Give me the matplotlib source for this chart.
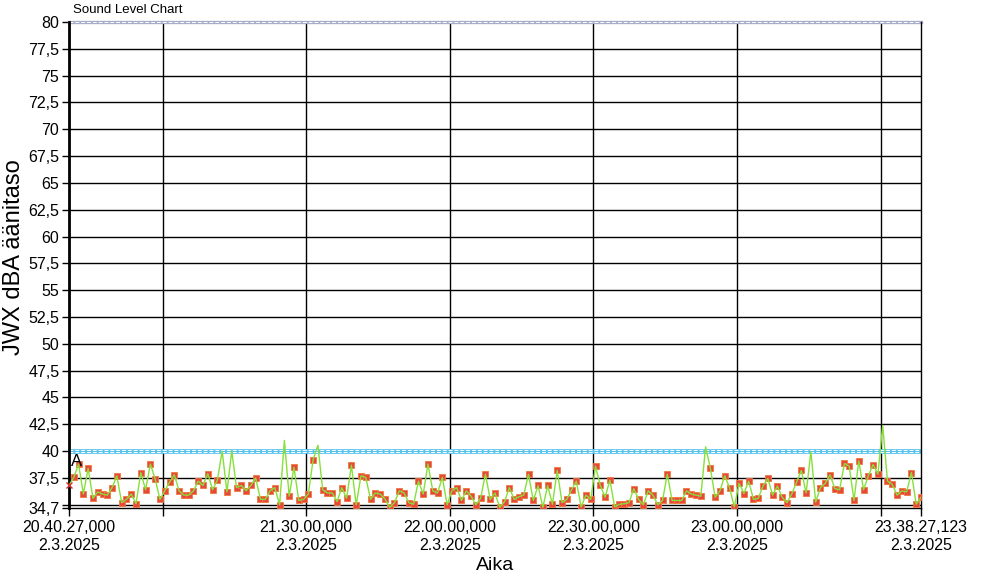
import numpy as np
import pandas as pd
import matplotlib
matplotlib.use('Agg')
import matplotlib.pyplot as plt

plt.rcParams['font.family'] = ['Liberation Sans', 'DejaVu Sans']

startTime = pd.Timestamp('2025-03-02 20:40:27')
endTime = pd.Timestamp('2025-03-02 23:38:27.123')

# one reading per minute, dBA
levels = [
    36.8, 37.55, 38.8, 36.0, 38.4, 35.6, 36.2, 36.0, 35.9, 36.6,
    37.7, 35.2, 35.5, 36.0, 35.1, 38.0, 36.4, 38.8, 37.4, 35.5,
    36.3, 37.1, 37.8, 36.3, 35.9, 35.9, 36.3, 37.2, 36.8, 37.9,
    36.4, 37.3, 40.0, 36.2, 40.0, 36.6, 36.8, 36.3, 36.8, 37.5,
    35.5, 35.5, 36.3, 36.6, 35.0, 41.0, 35.8, 38.5, 35.4, 35.5,
    36.0, 39.2, 40.55, 36.4, 36.1, 36.1, 35.3, 36.6, 35.6, 38.7,
    35.0, 37.7, 37.55, 35.5, 36.1, 36.0, 35.55, 34.75, 35.2, 36.3,
    36.1, 35.2, 35.05, 37.2, 36.0, 38.8, 36.3, 36.1, 37.55, 35.0,
    36.3, 36.6, 35.4, 36.3, 35.8, 35.0, 35.6, 37.85, 35.5, 36.1,
    34.75, 35.3, 36.6, 35.5, 35.75, 35.9, 37.85, 35.4, 36.8, 34.75,
    36.8, 35.05, 38.2, 35.2, 35.5, 36.4, 37.2, 34.8, 35.9, 35.5,
    38.6, 36.8, 35.7, 37.3, 34.8, 35.05, 35.1, 35.2, 36.5, 35.5,
    35.0, 36.3, 35.9, 35.0, 35.4, 37.85, 35.4, 35.4, 35.4, 36.3,
    36.0, 35.9, 35.8, 40.4, 38.4, 35.7, 36.3, 37.7, 36.6, 34.8,
    37.0, 36.05, 37.2, 35.5, 35.6, 36.75, 37.45, 35.9, 36.75, 35.7,
    35.2, 36.0, 37.1, 38.2, 36.1, 39.95, 35.25, 36.6, 37.0, 37.8,
    36.5, 36.4, 38.85, 38.6, 35.4, 39.1, 36.4, 37.7, 38.75, 37.85,
    42.4, 37.2, 36.9, 35.9, 36.3, 36.2, 38.0, 35.05, 35.7,
]

yTicks = [80, 77.5, 75, 72.5, 70, 67.5, 65, 62.5, 60, 57.5, 55, 52.5, 50,
          47.5, 45, 42.5, 40, 37.5, 35, 34.7]
yTickLabels = ['80', '77,5', '75', '72,5', '70', '67,5', '65', '62,5', '60',
               '57,5', '55', '52,5', '50', '47,5', '45', '42,5', '40', '37,5',
               '', '34,7']
gridTimes = ['21:00', '21:30', '22:00', '22:30', '23:00', '23:30']
xTickLabels = ['20.40.27,000\n2.3.2025', '', '21.30.00,000\n2.3.2025',
               '22.00.00,000\n2.3.2025', '22.30.00,000\n2.3.2025',
               '23.00.00,000\n2.3.2025', '', '23.38.27,123\n2.3.2025']
lowLimit = 40
highLimit = 80

times = pd.date_range(startTime, periods=len(levels), freq='min')
times = times[:-1].append(pd.DatetimeIndex([endTime]))
levels = np.array(levels)
gridStamps = [pd.Timestamp('2025-03-02 ' + t) for t in gridTimes]

fig = plt.figure(figsize=(9.9, 5.88), dpi=100)
ax = fig.add_axes([69/990, 1-508/588, 852/990, 486/588])

for t in gridStamps:
    ax.axvline(t, color='black', lw=1, zorder=1)
for y in yTicks[1:-1]:
    ax.axhline(y, color='black', lw=1, zorder=1)

ax.axhline(lowLimit, color='#58c3ee', lw=3.4, zorder=2)
ax.axhline(lowLimit+0.1, color='white', lw=0.7, ls=(0, (4, 2)), zorder=2)
ax.axhline(lowLimit-0.1, color='white', lw=0.7, ls=(0, (4, 2)), zorder=2)
ax.axhline(highLimit, color='#a8adc9', lw=2.4, zorder=2, clip_on=False)
ax.axhline(highLimit, color='white', lw=0.7, ls=(0, (4, 2)), zorder=2, clip_on=False)

mask = levels < 39.5
mask[0] = False
ax.plot(times[mask], levels[mask], ls='none', marker='s', ms=4.8,
        mfc='#e8483c', mec='#f07a3a', mew=0.6, zorder=3)
ax.plot(times, levels, color='#86e03a', lw=1, zorder=4)
ax.plot(times[0], levels[0], ls='none', marker='x', ms=4, mec='#d83030',
        mew=1, zorder=5, clip_on=False)

ax.set_xlim(startTime, endTime)
ax.set_ylim(34.7, 80)
ax.set_yticks(yTicks)
ax.set_yticklabels(yTickLabels)
ax.set_xticks([startTime] + gridStamps + [endTime])
ax.set_xticklabels(xTickLabels)
ax.tick_params(axis='y', direction='out', length=5, width=1, labelsize=11.5, pad=2)
ax.tick_params(axis='x', direction='out', length=6, width=1, labelsize=11.5, pad=3)

ax.spines['top'].set_visible(False)
ax.spines['left'].set_linewidth(2)
ax.spines['bottom'].set_linewidth(1)
ax.spines['right'].set_linewidth(1)

fig.text(73/990, 1-10/588, 'Sound Level Chart', fontsize=9.5, va='center')
fig.text(71/990, 1-461/588, 'A', fontsize=12, va='center')
fig.text(14/990, 1-257/588, 'JWX dBA äänitaso', fontsize=17, rotation=90,
         ha='center', va='center')
fig.text(495/990, 1-566/588, 'Aika', fontsize=14, ha='center', va='center')

fig.savefig('out.png', dpi=100)
